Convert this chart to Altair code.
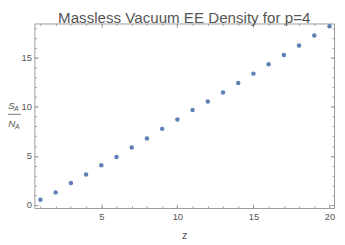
import altair as alt
import pandas as pd

# ---- data ----
z_values = list(range(1, 21))
density = [0.53, 1.29, 2.25, 3.10, 4.04, 4.90, 5.86, 6.78, 7.75, 8.71,
           9.66, 10.53, 11.45, 12.41, 13.37, 14.33, 15.26, 16.22, 17.25, 18.20]
x_major = [5, 10, 15, 20]
x_minor = list(range(1, 21))
y_major = [0, 5, 10, 15]
y_minor = list(range(0, 19))
title_text = "Massless Vacuum EE Density for p=4"
x_title = "z"
num_main, num_sub = "S", "A"
den_main, den_sub = "N", "A"

df = pd.DataFrame({"z": z_values, "d": density})

FONT = "Liberation Sans"
FRAME = "#9a9a9a"
TXT = "#555555"
PT = "#5E81B5"

xs = alt.Scale(domain=[0.6, 20.3], nice=False, zero=False)
ys = alt.Scale(domain=[-0.3, 18.47], nice=False, zero=False)


def ax(orient, values, size, labels, **kw):
    return alt.Axis(orient=orient, values=values, tickSize=size, offset=-size,
                    domain=False, grid=False, labels=labels, tickColor=FRAME,
                    tickWidth=1, labelFont=FONT, labelFontSize=9.6,
                    labelColor=TXT, **kw)


base = alt.Chart(df)


def layer(xaxis, yaxis, opacity):
    return base.mark_circle(size=21, color=PT, opacity=opacity).encode(
        x=alt.X("z:Q", scale=xs, axis=xaxis),
        y=alt.Y("d:Q", scale=ys, axis=yaxis),
    )


l1 = layer(
    ax("bottom", x_major, 4, True, labelPadding=4, title=x_title,
       titleFont=FONT, titleFontSize=11, titleColor=TXT,
       titleFontWeight="normal", titleBaseline="alphabetic", titleY=35),
    ax("left", y_major, 4, True, labelPadding=3, title=None),
    1,
)
l2 = layer(ax("top", x_major, 4, False, title=None),
           ax("right", y_major, 4, False, title=None), 0)
l3 = layer(ax("bottom", x_minor, 2, False, title=None),
           ax("left", y_minor, 2, False, title=None), 0)
l4 = layer(ax("top", x_minor, 2, False, title=None),
           ax("right", y_minor, 2, False, title=None), 0)


def txt(s, x, y, size):
    return alt.Chart(pd.DataFrame({"t": [s]})).mark_text(
        font=FONT, fontStyle="italic", fontSize=size, color=TXT,
        align="left", baseline="alphabetic").encode(
        x=alt.value(x), y=alt.value(y), text="t:N")


t1 = txt(num_main, -26.8, 88, 10)
t2 = txt(num_sub, -20.8, 90, 7)
t3 = txt(den_main, -26.8, 106.3, 10)
t4 = txt(den_sub, -19.8, 108.3, 7)
bar = alt.Chart(pd.DataFrame({"a": [0]})).mark_rule(
    color=TXT, strokeWidth=0.8).encode(
    x=alt.value(-27.5), x2=alt.value(-13.8), y=alt.value(93))

chart = (
    alt.layer(l1, l2, l3, l4, t1, t2, t3, t4, bar)
    .resolve_axis(x="independent", y="independent")
    .properties(
        width=307, height=189,
        autosize=alt.AutoSizeParams(type="none"),
        padding={"left": 27, "top": 13, "right": 3, "bottom": 34},
        title=alt.TitleParams(text=title_text, font=FONT, fontSize=15.5,
                              fontWeight="normal", color=TXT,
                              anchor="middle", frame="group",
                              baseline="alphabetic", offset=2.5, dy=18.3),
    )
    .configure_view(stroke=FRAME, strokeWidth=1)
)

chart.save("out.html", embed_options={"renderer": "svg", "actions": False})
